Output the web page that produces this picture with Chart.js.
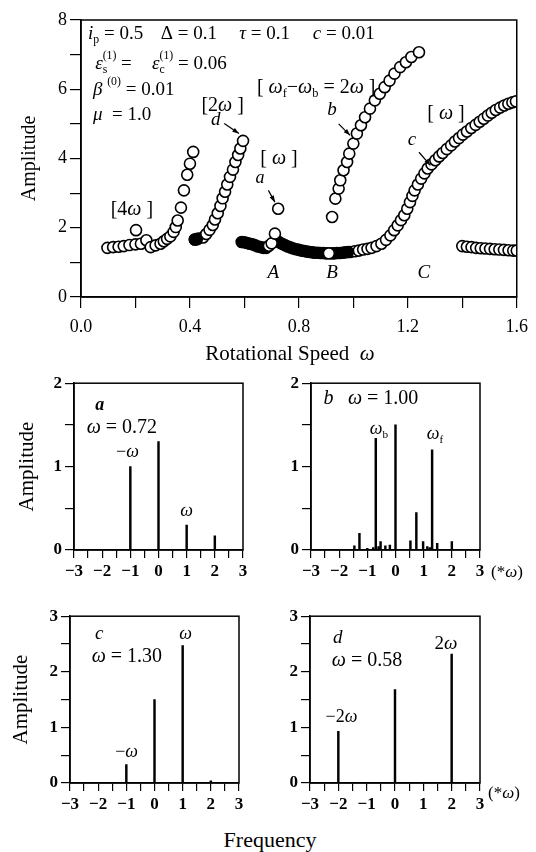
<!DOCTYPE html>
<html>
<head>
<meta charset="utf-8">
<script src="https://cdn.jsdelivr.net/npm/chart.js@4.4.0/dist/chart.umd.min.js"></script>
<style>
  body { margin: 0; background: #fff; width: 536px; height: 852px; position: relative; overflow: hidden; font-family: "Liberation Serif", serif; }
  canvas { position: absolute; }
  .lbl { position: absolute; transform: translate(-50%, -50%); white-space: nowrap; color: #000; }
</style>
</head>
<body>
<canvas id="main" width="536" height="345" style="left:0;top:0"></canvas>
<canvas id="specA" width="268" height="220" style="left:0;top:370px"></canvas>
<canvas id="specB" width="268" height="220" style="left:268px;top:370px"></canvas>
<canvas id="specC" width="268" height="215" style="left:0;top:603px"></canvas>
<canvas id="specD" width="268" height="215" style="left:268px;top:603px"></canvas>
<div class="lbl" style="left:290px;top:353px;font-size:21px">Rotational Speed&nbsp;&nbsp;<i>ω</i></div>
<div class="lbl" style="left:270px;top:840px;font-size:22px">Frequency</div>
<div class="lbl" style="left:507px;top:572px;font-size:17px">(*<i>ω</i>)</div>
<div class="lbl" style="left:504px;top:793px;font-size:17px">(*<i>ω</i>)</div>
<script>
const FONT = '"Liberation Serif", serif';

// ---- response curve (rotational speed vs amplitude) ----
// [4ω] branch
const lowX = [0.097, 0.118, 0.138, 0.157, 0.178, 0.200, 0.202, 0.220, 0.240, 0.256, 0.274, 0.292, 0.304, 0.316, 0.328, 0.340, 0.348, 0.355, 0.367, 0.378, 0.390, 0.400, 0.412];
const lowY = [1.42, 1.44, 1.45, 1.47, 1.50, 1.52, 1.93, 1.54, 1.64, 1.44, 1.49, 1.54, 1.61, 1.68, 1.75, 1.88, 2.02, 2.21, 2.58, 3.08, 3.53, 3.85, 4.19];
// [2ω] branch
const twoX = [0.418, 0.430, 0.448, 0.460, 0.472, 0.484, 0.492, 0.502, 0.512, 0.520, 0.529, 0.537, 0.547, 0.558, 0.567, 0.577, 0.585, 0.595];
const twoY = [1.66, 1.69, 1.72, 1.82, 1.94, 2.08, 2.24, 2.42, 2.63, 2.85, 3.04, 3.25, 3.47, 3.68, 3.90, 4.10, 4.29, 4.51];
// dense [ω] branch through A and B
const denseX = [0.418, 0.425, 0.59, 0.60, 0.61, 0.62, 0.63, 0.64, 0.65, 0.66, 0.67, 0.68,
  0.72, 0.73, 0.74, 0.75, 0.76, 0.77, 0.78, 0.79, 0.80, 0.81, 0.82, 0.83, 0.84, 0.85,
  0.86, 0.87, 0.88, 0.89, 0.90, 0.92, 0.93, 0.94, 0.95, 0.96, 0.97, 0.98];
const denseY = [1.66, 1.67, 1.59, 1.58, 1.56, 1.54, 1.52, 1.49, 1.46, 1.44, 1.42, 1.42,
  1.62, 1.57, 1.53, 1.49, 1.46, 1.43, 1.40, 1.38, 1.36, 1.34, 1.33, 1.31, 1.30, 1.29,
  1.28, 1.28, 1.27, 1.27, 1.26, 1.26, 1.26, 1.27, 1.27, 1.28, 1.29, 1.30];
// isolated open points near A (point a) and B
const cuspX = [0.690, 0.700, 0.712, 0.724, 0.910];
const cuspY = [1.48, 1.55, 1.83, 2.55, 1.26];
// [ωf - ωb = 2ω] branch
const bX = [0.922, 0.934, 0.946, 0.952, 0.964, 0.977, 0.985, 1.000, 1.013, 1.028, 1.043, 1.061, 1.079, 1.097, 1.115, 1.133, 1.151, 1.172, 1.193, 1.213, 1.241];
const bY = [2.31, 2.84, 3.13, 3.37, 3.66, 3.90, 4.14, 4.43, 4.72, 4.96, 5.19, 5.44, 5.68, 5.87, 6.06, 6.25, 6.45, 6.64, 6.78, 6.93, 7.07];
// [ω] branch through C
const cX = [0.988, 1.005, 1.020, 1.036, 1.052, 1.067, 1.085, 1.103, 1.120, 1.136, 1.150, 1.163, 1.175, 1.187, 1.198, 1.208, 1.217, 1.225, 1.237, 1.249,
  1.261, 1.273, 1.287, 1.301, 1.315, 1.328, 1.343, 1.359, 1.373, 1.388, 1.402, 1.417, 1.433, 1.449, 1.464, 1.479, 1.494, 1.508, 1.523, 1.539, 1.554, 1.569, 1.584, 1.597];
const cY = [1.30, 1.32, 1.34, 1.37, 1.39, 1.42, 1.47, 1.54, 1.65, 1.78, 1.93, 2.07, 2.22, 2.36, 2.55, 2.74, 2.92, 3.08, 3.25, 3.42,
  3.57, 3.71, 3.83, 3.95, 4.06, 4.16, 4.27, 4.38, 4.49, 4.59, 4.69, 4.78, 4.88, 4.97, 5.06, 5.15, 5.24, 5.32, 5.40, 5.47, 5.53, 5.58, 5.62, 5.65];
// high-speed branch
const hiX = [1.400, 1.417, 1.434, 1.451, 1.468, 1.485, 1.502, 1.519, 1.536, 1.553, 1.570, 1.587, 1.600];
const hiY = [1.47, 1.45, 1.44, 1.42, 1.41, 1.40, 1.39, 1.38, 1.37, 1.36, 1.35, 1.34, 1.34];

const speedTicks = [0.0, 0.4, 0.8, 1.2, 1.6];

// ---- spectra ----
const freqA = [-1, 0, 1, 2];
const ampA = [1.00, 1.30, 0.30, 0.17];
const freqB = [-1.46, -1.28, -1.00, -0.79, -0.70, -0.60, -0.53, -0.36, -0.20, 0, 0.53, 0.74, 0.98, 1.13, 1.22, 1.30, 1.48, 2.00];
const ampB = [0.05, 0.20, 0.02, 0.03, 1.34, 0.04, 0.10, 0.05, 0.06, 1.50, 0.11, 0.45, 0.10, 0.04, 0.03, 1.20, 0.08, 0.10];
const freqC = [-1, 0, 1, 2];
const ampC = [0.33, 1.50, 2.47, 0.04];
const freqD = [-2, 0, 2];
const ampD = [0.93, 1.68, 2.32];

function pts(xs, ys) {
  return xs.map((x, i) => ({ x: x, y: ys[i] }));
}

function drawRich(ctx, x, y, parts, size, align) {
  const seg = parts.map(p => {
    const t = p[0], k = p[1] || 'n';
    const small = k === 'sub' || k === 'sup' || k === 'sub0';
    const sz = small ? size * 0.62 : size;
    let style = '';
    if (k === 'i') style = 'italic ';
    if (k === 'bi') style = 'italic bold ';
    const font = style + sz + 'px ' + FONT;
    ctx.font = font;
    const w = ctx.measureText(t).width;
    let dy = 0;
    if (k === 'sub' || k === 'sub0') dy = size * 0.32;
    if (k === 'sup') dy = -size * 0.42;
    return { t: t, font: font, dy: dy, adv: k === 'sub0' ? 0 : w };
  });
  const total = seg.reduce((s, g) => s + g.adv, 0);
  let cx = align === 'center' ? x - total / 2 : x;
  ctx.textAlign = 'left';
  ctx.textBaseline = 'middle';
  ctx.fillStyle = '#000';
  seg.forEach(g => {
    ctx.font = g.font;
    ctx.fillText(g.t, cx, y + g.dy);
    cx += g.adv;
  });
}

function drawArrow(ctx, x1, y1, x2, y2) {
  const ang = Math.atan2(y2 - y1, x2 - x1);
  ctx.beginPath();
  ctx.moveTo(x1, y1);
  ctx.lineTo(x2, y2);
  ctx.lineWidth = 1.2;
  ctx.stroke();
  ctx.beginPath();
  ctx.moveTo(x2, y2);
  ctx.lineTo(x2 - 7 * Math.cos(ang - 0.35), y2 - 7 * Math.sin(ang - 0.35));
  ctx.lineTo(x2 - 7 * Math.cos(ang + 0.35), y2 - 7 * Math.sin(ang + 0.35));
  ctx.closePath();
  ctx.fill();
}

// frame + text annotations placed through the chart scales
const notesPlugin = {
  id: 'notes',
  afterDatasetsDraw(chart, args, opts) {
    const ctx = chart.ctx;
    const xs = chart.scales.x, ys = chart.scales.y;
    const a = chart.chartArea;
    ctx.save();
    ctx.strokeStyle = '#000';
    ctx.fillStyle = '#000';
    ctx.lineWidth = 1.5;
    ctx.strokeRect(a.left, a.top, a.right - a.left, a.bottom - a.top);
    (opts.arrows || []).forEach(ar => {
      drawArrow(ctx, xs.getPixelForValue(ar[0]), ys.getPixelForValue(ar[1]),
        xs.getPixelForValue(ar[2]), ys.getPixelForValue(ar[3]));
    });
    (opts.items || []).forEach(it => {
      drawRich(ctx, xs.getPixelForValue(it.x), ys.getPixelForValue(it.y), it.parts, it.size || 17, it.align);
    });
    ctx.restore();
  }
};

Chart.defaults.font.family = FONT;
Chart.defaults.color = '#000';

function axis(min, max, step, show, opt) {
  return {
    type: 'linear', min: min, max: max, offset: false,
    afterFit: opt.fit,
    title: opt.title || { display: false },
    ticks: {
      stepSize: step, autoSkip: false, maxRotation: 0, padding: opt.pad,
      font: opt.font, color: '#000',
      callback: v => show(v)
    },
    grid: { drawOnChartArea: false, offset: false, color: '#000', tickColor: '#000', tickLength: opt.tick, lineWidth: 1.2 },
    border: { color: '#000', width: 1.5 }
  };
}

function near(v, m) {
  return Math.abs(v / m - Math.round(v / m)) < 1e-6;
}

function minus(v) {
  const r = Math.round(v);
  return r < 0 ? '\u2212' + Math.abs(r) : String(r);
}

// ---------- main chart ----------
const circle = {
  pointStyle: 'circle', pointRadius: 5.5, pointBorderWidth: 1.6,
  pointBorderColor: '#000', pointBackgroundColor: '#fff', showLine: false, clip: 0
};

new Chart(document.getElementById('main'), {
  type: 'scatter',
  data: {
    datasets: [
      Object.assign({ data: pts(cuspX, cuspY), order: 1 }, circle),
      Object.assign({ data: pts(denseX, denseY), order: 2 }, circle, { pointBackgroundColor: '#000' }),
      Object.assign({ data: pts(lowX, lowY), order: 3 }, circle),
      Object.assign({ data: pts(twoX, twoY), order: 3 }, circle),
      Object.assign({ data: pts(bX, bY), order: 3 }, circle),
      Object.assign({ data: pts(cX, cY), order: 3 }, circle),
      Object.assign({ data: pts(hiX, hiY), order: 3 }, circle)
    ]
  },
  plugins: [notesPlugin],
  options: {
    responsive: false, animation: false,
    layout: { padding: { left: 0, top: 20, right: 11, bottom: 0 } },
    scales: {
      x: axis(0, 1.6, 0.2, v => speedTicks.some(t => Math.abs(t - v) < 1e-6) ? v.toFixed(1) : '', {
        fit: s => { s.height = 48; }, pad: 8, tick: 11, font: { size: 18 }
      }),
      y: axis(0, 8, 1, v => near(v, 2) ? String(Math.round(v)) : '', {
        fit: s => { s.width = 81; }, pad: 3, tick: 11, font: { size: 18 },
        title: { display: true, text: 'Amplitude', font: { size: 20 }, padding: { top: 18 } }
      })
    },
    plugins: {
      legend: { display: false }, tooltip: { enabled: false },
      notes: {
        items: [
          { x: 0.026, y: 7.6, parts: [['i', 'i'], ['p', 'sub'], [' = 0.5']], size: 19 },
          { x: 0.293, y: 7.6, parts: [['Δ = 0.1']], size: 19 },
          { x: 0.581, y: 7.6, parts: [['τ', 'i'], [' = 0.1']], size: 19 },
          { x: 0.851, y: 7.6, parts: [['c', 'i'], [' = 0.01']], size: 19 },
          { x: 0.052, y: 6.74, parts: [['ε', 'i'], ['s', 'sub0'], ['(1)', 'sup'], [' =']], size: 19 },
          { x: 0.261, y: 6.74, parts: [['ε', 'i'], ['c', 'sub0'], ['(1)', 'sup'], [' = 0.06']], size: 19 },
          { x: 0.044, y: 5.97, parts: [['β', 'i'], [' '], ['(0)', 'sup'], [' = 0.01']], size: 19 },
          { x: 0.044, y: 5.25, parts: [['μ', 'i'], ['  = 1.0']], size: 19 },
          { x: 0.646, y: 6.05, parts: [['[ '], ['ω', 'i'], ['f', 'sub'], ['−'], ['ω', 'i'], ['b', 'sub'], [' = 2'], ['ω', 'i'], [' ]']], size: 20 },
          { x: 0.187, y: 2.53, parts: [['[4'], ['ω', 'i'], [' ]']], align: 'center', size: 20 },
          { x: 0.520, y: 5.53, parts: [['[2'], ['ω', 'i'], [' ]']], align: 'center', size: 20 },
          { x: 0.495, y: 5.10, parts: [['d', 'i']], align: 'center', size: 19 },
          { x: 0.727, y: 3.99, parts: [['[ '], ['ω', 'i'], [' ]']], align: 'center', size: 20 },
          { x: 0.657, y: 3.43, parts: [['a', 'i']], align: 'center', size: 18 },
          { x: 0.922, y: 5.39, parts: [['b', 'i']], align: 'center', size: 19 },
          { x: 1.340, y: 5.30, parts: [['[ '], ['ω', 'i'], [' ]']], align: 'center', size: 20 },
          { x: 1.215, y: 4.52, parts: [['c', 'i']], align: 'center', size: 19 },
          { x: 0.706, y: 0.68, parts: [['A', 'i']], align: 'center', size: 19 },
          { x: 0.922, y: 0.68, parts: [['B', 'i']], align: 'center', size: 19 },
          { x: 1.259, y: 0.68, parts: [['C', 'i']], align: 'center', size: 19 }
        ],
        arrows: [
          [0.526, 5.01, 0.580, 4.72],
          [0.688, 3.08, 0.712, 2.74],
          [0.946, 5.00, 0.988, 4.67],
          [1.241, 4.18, 1.283, 3.80]
        ]
      }
    }
  }
});

// ---------- spectra ----------
function spectrum(id, freqs, amps, ymax, geo, notes) {
  const yTitle = geo.titlePad === undefined ? { display: false } :
    { display: true, text: 'Amplitude', font: { size: 21 }, padding: { top: geo.titlePad } };
  return new Chart(document.getElementById(id), {
    type: 'bar',
    data: {
      datasets: [{
        data: pts(freqs, amps), backgroundColor: '#000', borderWidth: 0,
        barThickness: 1.8, barPercentage: 1, categoryPercentage: 1
      }]
    },
    plugins: [notesPlugin],
    options: {
      responsive: false, animation: false,
      layout: { padding: { left: 0, top: geo.top, right: geo.right, bottom: 0 } },
      scales: {
        x: axis(-3, 3, 0.5, v => near(v, 1) ? minus(v) : '', {
          fit: s => { s.height = geo.xh; }, pad: 3, tick: 8, font: { size: 17, weight: 'bold' }
        }),
        y: axis(0, ymax, 0.5, v => near(v, 1) ? String(Math.round(v)) : '', {
          fit: s => { s.width = geo.yw; }, pad: 3, tick: 9, font: { size: 17, weight: 'bold' },
          title: yTitle
        })
      },
      plugins: { legend: { display: false }, tooltip: { enabled: false }, notes: notes }
    }
  });
}

spectrum('specA', freqA, ampA, 2, { top: 12, right: 25, yw: 74, xh: 40, titlePad: 15 }, {
  items: [
    { x: -2.25, y: 1.74, parts: [['a', 'bi']], size: 18 },
    { x: -2.55, y: 1.47, parts: [['ω', 'i'], [' = 0.72']], size: 20 },
    { x: -1.10, y: 1.17, parts: [['−'], ['ω', 'i']], align: 'center', size: 18 },
    { x: 1.0, y: 0.46, parts: [['ω', 'i']], align: 'center', size: 18 }
  ]
});
spectrum('specB', freqB, ampB, 2, { top: 12, right: 56, yw: 43, xh: 40 }, {
  items: [
    { x: -2.56, y: 1.81, parts: [['b', 'i']], size: 20 },
    { x: -1.69, y: 1.81, parts: [['ω', 'i'], [' = 1.00']], size: 20 },
    { x: -0.91, y: 1.45, parts: [['ω', 'i'], ['b', 'sub']], size: 18 },
    { x: 1.11, y: 1.39, parts: [['ω', 'i'], ['f', 'sub']], size: 18 }
  ]
});
spectrum('specC', freqC, ampC, 3, { top: 12, right: 29, yw: 70, xh: 35, titlePad: 9 }, {
  items: [
    { x: -2.11, y: 2.68, parts: [['c', 'i']], size: 19 },
    { x: -2.23, y: 2.27, parts: [['ω', 'i'], [' = 1.30']], size: 20 },
    { x: 1.10, y: 2.68, parts: [['ω', 'i']], align: 'center', size: 18 },
    { x: -0.99, y: 0.55, parts: [['−'], ['ω', 'i']], align: 'center', size: 18 }
  ]
});
spectrum('specD', freqD, ampD, 3, { top: 12, right: 56, yw: 42, xh: 35 }, {
  items: [
    { x: -2.19, y: 2.61, parts: [['d', 'i']], size: 19 },
    { x: -2.23, y: 2.20, parts: [['ω', 'i'], [' = 0.58']], size: 20 },
    { x: 1.80, y: 2.50, parts: [['2'], ['ω', 'i']], align: 'center', size: 19 },
    { x: -1.89, y: 1.18, parts: [['−2'], ['ω', 'i']], align: 'center', size: 18 }
  ]
});
</script>
</body>
</html>
